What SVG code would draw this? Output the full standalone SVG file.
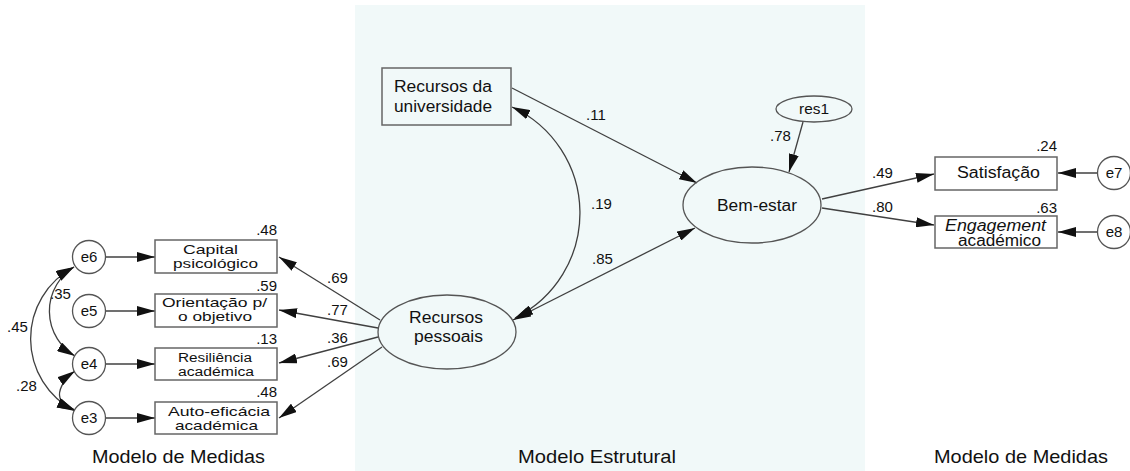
<svg xmlns="http://www.w3.org/2000/svg" width="1130" height="471" viewBox="0 0 1130 471">
<defs>
<marker id="arr" viewBox="0 0 18 10" refX="18" refY="5" markerWidth="18" markerHeight="10" markerUnits="userSpaceOnUse" orient="auto-start-reverse">
<path d="M0,0 L18,5 L0,10 z" fill="#111"/>
</marker>
<style>
text{font-family:"Liberation Sans",Arial,sans-serif;fill:#111}
.box{fill:#fff;stroke:#666;stroke-width:1.5}
.inbox{fill:none;stroke:#666;stroke-width:1.5}
.ell{fill:none;stroke:#555;stroke-width:1.3}
.circ{fill:#fff;stroke:#555;stroke-width:1.3}
.lbl{font-size:15px}
.sm{font-size:13px}
.big{font-size:16px}
.num{font-size:15px}
.cap{font-size:19px}
.con{fill:none;stroke:#404040;stroke-width:1.3}
.a{marker-end:url(#arr)}
.aa{marker-start:url(#arr);marker-end:url(#arr)}
</style>
</defs>
<rect x="0" y="0" width="1130" height="471" fill="#fff"/>
<rect x="355" y="5" width="510" height="466" fill="#f1f9f9"/>

<g id="connectors">
<line class="con a" x1="106" y1="257" x2="155" y2="257"/>
<line class="con a" x1="106" y1="311" x2="155" y2="311"/>
<line class="con a" x1="106" y1="364" x2="155" y2="364"/>
<line class="con a" x1="106" y1="418" x2="155" y2="418"/>
<path class="con aa" d="M74,267 A81,81 0 0 0 75,411"/>
<path class="con aa" d="M74,267 A52,52 0 0 0 75,356"/>
<path class="con aa" d="M75,371 C62,380 58,392 60,398 C62,404 68,407 75,410"/>
<line class="con a" x1="380" y1="320" x2="279" y2="257"/>
<line class="con a" x1="378" y1="328" x2="279" y2="310"/>
<line class="con a" x1="378" y1="337" x2="279" y2="363"/>
<line class="con a" x1="382" y1="347" x2="279" y2="418"/>
<line class="con a" x1="512" y1="88" x2="697" y2="183"/>
<line class="con aa" x1="513" y1="320" x2="695" y2="228"/>
<path class="con aa" d="M512,107 A117,117 0 0 1 515,318"/>
<line class="con a" x1="803" y1="122" x2="789" y2="172"/>
<line class="con a" x1="822" y1="199" x2="934" y2="174"/>
<line class="con a" x1="822" y1="208" x2="934" y2="225"/>
<line class="con a" x1="1097" y1="173" x2="1058" y2="173"/>
<line class="con a" x1="1097" y1="232" x2="1058" y2="232"/>
</g>

<g id="e6"><circle class="circ" cx="89" cy="257" r="16.5"/><text class="lbl" x="89" y="262" text-anchor="middle">e6</text></g>
<g id="e5"><circle class="circ" cx="89" cy="311" r="16.5"/><text class="lbl" x="89" y="316" text-anchor="middle">e5</text></g>
<g id="e4"><circle class="circ" cx="89" cy="364" r="16.5"/><text class="lbl" x="89" y="369" text-anchor="middle">e4</text></g>
<g id="e3"><circle class="circ" cx="89" cy="418" r="16.5"/><text class="lbl" x="89" y="423" text-anchor="middle">e3</text></g>

<g id="capital"><rect class="box" x="155" y="240" width="122" height="33"/>
<text class="sm" x="183" y="254" textLength="55" lengthAdjust="spacingAndGlyphs">Capital</text>
<text class="sm" x="173" y="268" textLength="85" lengthAdjust="spacingAndGlyphs">psicológico</text>
<text class="num" x="277" y="235" text-anchor="end">.48</text></g>
<g id="orientacao"><rect class="box" x="155" y="294" width="122" height="33"/>
<text class="sm" x="162" y="306.5" textLength="105" lengthAdjust="spacingAndGlyphs">Orientação p/</text>
<text class="sm" x="178" y="320.5" textLength="74" lengthAdjust="spacingAndGlyphs">o objetivo</text>
<text class="num" x="277" y="291" text-anchor="end">.59</text></g>
<g id="resiliencia"><rect class="box" x="155" y="348" width="122" height="32"/>
<text class="sm" style="font-size:12px" x="178" y="361.5" textLength="74" lengthAdjust="spacingAndGlyphs">Resiliência</text>
<text class="sm" style="font-size:12px" x="178" y="375.5" textLength="76" lengthAdjust="spacingAndGlyphs">académica</text>
<text class="num" x="277" y="344" text-anchor="end">.13</text></g>
<g id="autoeficacia"><rect class="box" x="155" y="402" width="122" height="32"/>
<text class="sm" x="168" y="415.5" textLength="102" lengthAdjust="spacingAndGlyphs">Auto-eficácia</text>
<text class="sm" x="175" y="429.5" textLength="83" lengthAdjust="spacingAndGlyphs">académica</text>
<text class="num" x="277" y="397" text-anchor="end">.48</text></g>

<g id="recursos-pessoais"><ellipse class="ell" cx="447" cy="332" rx="69" ry="37"/>
<text class="big" x="409" y="323" textLength="74" lengthAdjust="spacingAndGlyphs">Recursos</text>
<text class="big" x="414" y="342" textLength="69" lengthAdjust="spacingAndGlyphs">pessoais</text></g>

<g id="recursos-universidade"><rect class="inbox" x="382" y="68" width="129" height="57"/>
<text class="big" x="394" y="92" textLength="98" lengthAdjust="spacingAndGlyphs">Recursos da</text>
<text class="big" x="394" y="112" textLength="98" lengthAdjust="spacingAndGlyphs">universidade</text></g>

<g id="bem-estar"><ellipse class="ell" cx="752" cy="205" rx="69" ry="38"/>
<text class="big" x="717" y="211" textLength="80" lengthAdjust="spacingAndGlyphs">Bem-estar</text></g>

<g id="res1"><ellipse class="ell" cx="814" cy="109" rx="38" ry="13"/>
<text class="lbl" x="799" y="114" textLength="30" lengthAdjust="spacingAndGlyphs">res1</text></g>

<g id="satisfacao"><rect class="box" x="935" y="157" width="122" height="33"/>
<text class="big" x="957" y="178" textLength="83" lengthAdjust="spacingAndGlyphs">Satisfação</text>
<text class="num" x="1057" y="151" text-anchor="end">.24</text></g>
<g id="engagement"><rect class="box" x="935" y="216" width="122" height="32"/>
<text class="big" x="945" y="231" font-style="italic" textLength="101" lengthAdjust="spacingAndGlyphs">Engagement</text>
<text class="big" x="958" y="246" textLength="83" lengthAdjust="spacingAndGlyphs">académico</text>
<text class="num" x="1057" y="213" text-anchor="end">.63</text></g>

<g id="e7"><circle class="circ" cx="1114" cy="173" r="16.5"/><text class="lbl" x="1114" y="178" text-anchor="middle">e7</text></g>
<g id="e8"><circle class="circ" cx="1114" cy="232" r="16.5"/><text class="lbl" x="1114" y="237" text-anchor="middle">e8</text></g>

<g id="labels">
<text class="num" x="50" y="299">.35</text>
<text class="num" x="7" y="332">.45</text>
<text class="num" x="16" y="391">.28</text>
<text class="num" x="327" y="283">.69</text>
<text class="num" x="327" y="315">.77</text>
<text class="num" x="327" y="343">.36</text>
<text class="num" x="327" y="367">.69</text>
<text class="num" x="586" y="120">.11</text>
<text class="num" x="591" y="209">.19</text>
<text class="num" x="592" y="264">.85</text>
<text class="num" x="770" y="141">.78</text>
<text class="num" x="872" y="178">.49</text>
<text class="num" x="872" y="212">.80</text>
<text class="cap" x="92" y="463" textLength="173" lengthAdjust="spacingAndGlyphs">Modelo de Medidas</text>
<text class="cap" x="518" y="463" textLength="158" lengthAdjust="spacingAndGlyphs">Modelo Estrutural</text>
<text class="cap" x="934" y="463" textLength="174" lengthAdjust="spacingAndGlyphs">Modelo de Medidas</text>
</g>
</svg>
